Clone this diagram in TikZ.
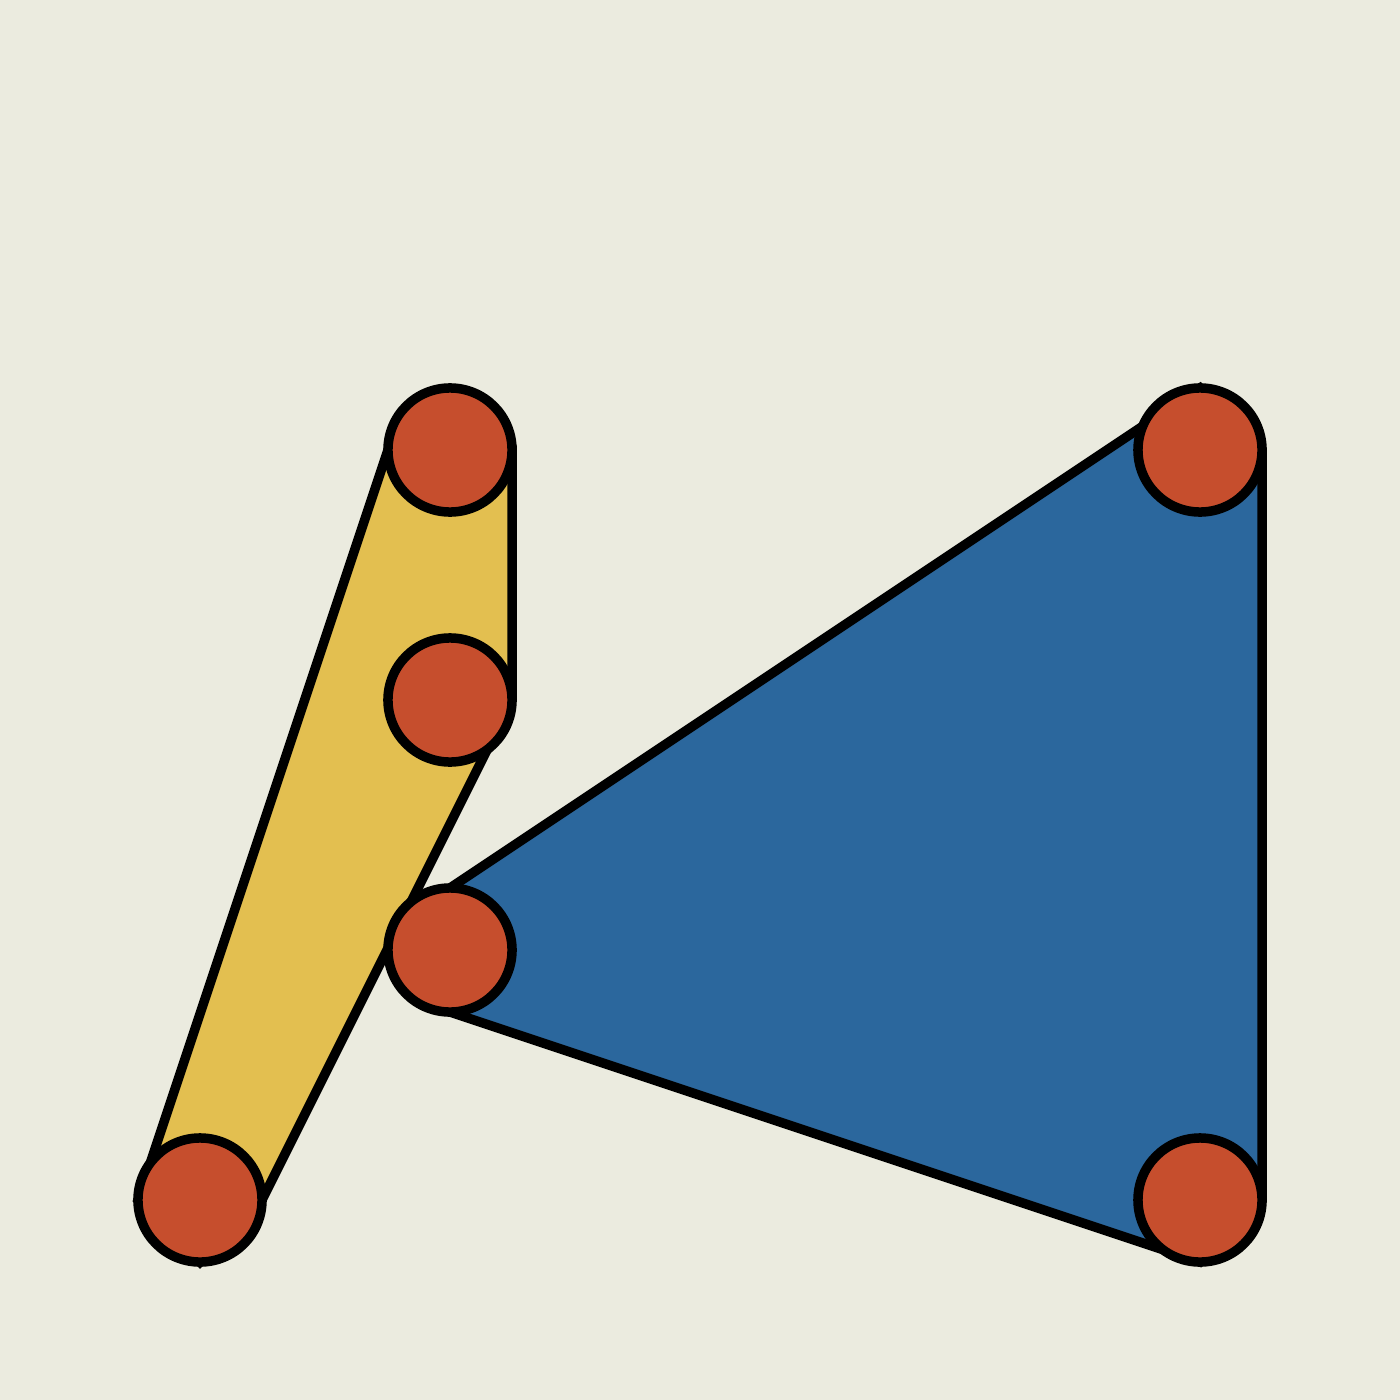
\documentclass[tikz,border=0pt]{standalone}
\usepackage{tikz}
\usetikzlibrary{backgrounds}

\definecolor{paper}{HTML}{EBEBDF}
\definecolor{mustard}{HTML}{E3BF50}
\definecolor{steel}{HTML}{2B679D}
\definecolor{brick}{HTML}{C64E2D}

\begin{document}
\begin{tikzpicture}[x=0.01cm,y=-0.01cm,
			joint/.style={circle,draw=black,fill=brick,line width=0.95mm,inner sep=0,outer sep=0,minimum size=1.24cm},
			plate/.style={draw=black,line width=0.95mm}
		]
		\useasboundingbox (0,0) rectangle (1400,1400);
		\node[joint] (p1) at (450,450)  {};
		\node[joint] (p2) at (450,700)  {};
		\node[joint] (p3) at (450,950)  {};
		\node[joint] (p4) at (200,1200) {};
		\node[joint] (p5) at (1200,450) {};
		\node[joint] (p6) at (1200,1200) {};
		\begin{scope}[on background layer]
			\fill[paper] (0,0) rectangle (1400,1400);
			\draw[plate,fill=mustard] (p1.west) -- (p1.east) -- (p2.east) -- (p4.east) -- (p4.south) -- (p4.west) -- cycle;
			\draw[plate,fill=steel] (p3.north) -- (p5.north) -- (p5.east) -- (p6.east) -- (p6.south) -- (p3.south) -- cycle;
		\end{scope}
	\end{tikzpicture}
\end{document}
